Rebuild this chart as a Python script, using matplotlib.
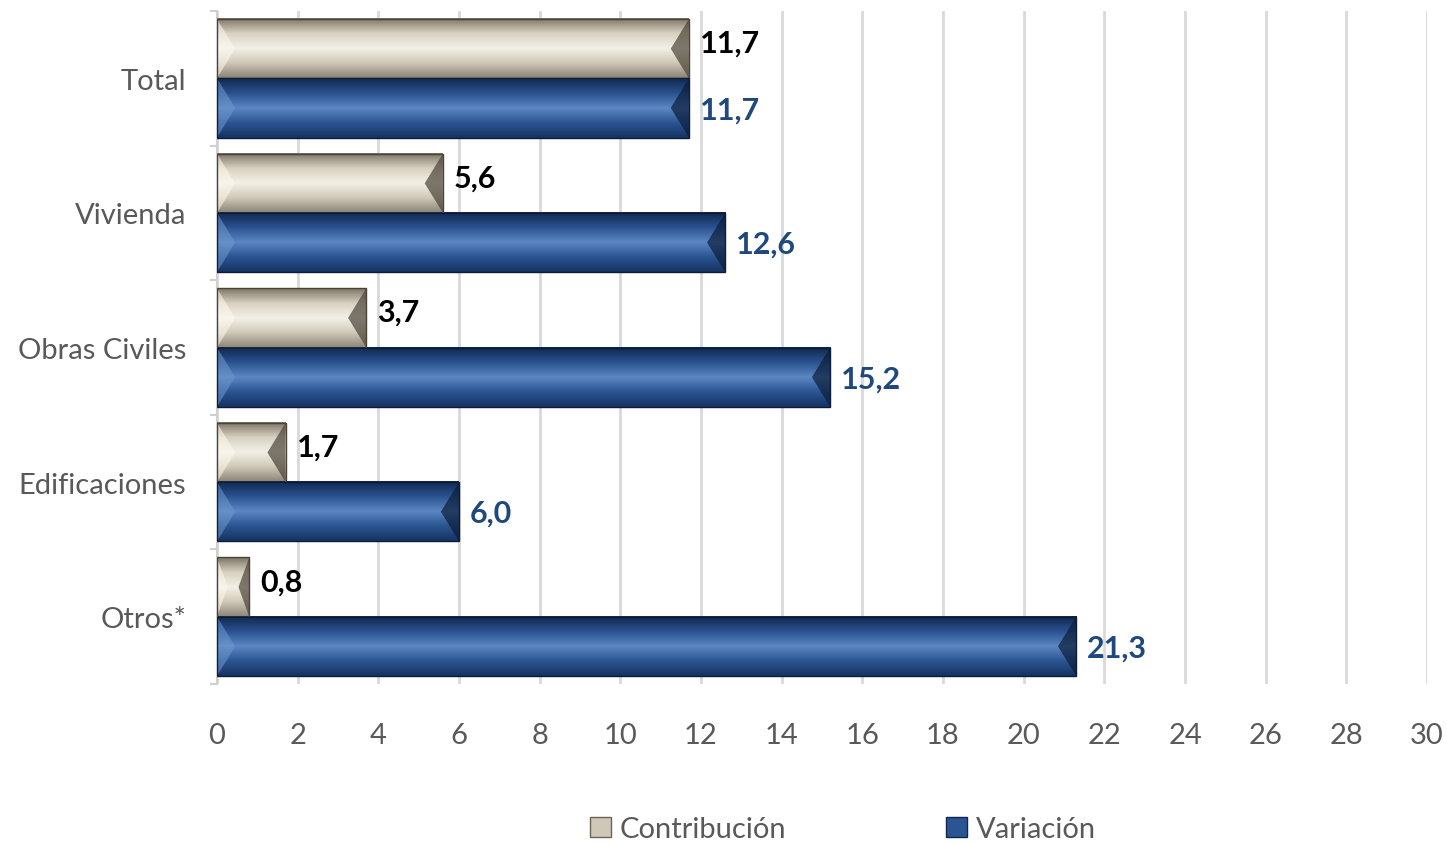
import matplotlib.pyplot as plt
import numpy as np
from matplotlib.patches import Polygon, Patch

plt.rcParams['font.family'] = ['Lato', 'DejaVu Sans']

# data, top to bottom
categories = ["Total", "Vivienda", "Obras Civiles", "Edificaciones", "Otros*"]
contribucion = [11.7, 5.6, 3.7, 1.7, 0.8]
variacion = [11.7, 12.6, 15.2, 6.0, 21.3]
x_ticks = list(range(0, 31, 2))

contrib_cols = ["#8c8474", "#cfc8b8", "#f4f0e6", "#d8d1c1", "#7d7565"]
var_cols = ["#163363", "#2b5592", "#5b87c2", "#2a5290", "#10284f"]


def fancy_bar(ax, bar, cols, edge_light, edge_dark):
    x0, y0 = bar.get_x(), bar.get_y()
    w, h = bar.get_width(), bar.get_height()
    x1, y1 = x0 + w, y0 + h
    # vertical gradient body
    grad = np.linspace(0, 1, 64)
    stops = np.linspace(0, 1, len(cols))
    rgb = np.array([plt.matplotlib.colors.to_rgb(c) for c in cols])
    img = np.stack([np.interp(grad, stops, rgb[:, k]) for k in range(3)], axis=-1)[:, None, :]
    ax.imshow(img, extent=(x0, x1, y0, y1), aspect='auto', origin='lower',
              zorder=3, interpolation='bilinear')
    ym = (y0 + y1) / 2
    dx = min(0.45, w / 3)
    ax.add_patch(Polygon([(x0, y0), (x0, y1), (x0 + dx, ym)], closed=True,
                         facecolor=edge_light, alpha=0.55, lw=0, zorder=4))
    ax.add_patch(Polygon([(x1, y0), (x1, y1), (x1 - dx, ym)], closed=True,
                         facecolor=edge_dark, alpha=0.7, lw=0, zorder=4))
    ax.add_patch(plt.Rectangle((x0, y0), w, h, fill=False, edgecolor=edge_dark,
                               lw=1.0, zorder=5))


fig = plt.figure(figsize=(14.47, 8.45), dpi=100)
ax = fig.add_axes([217 / 1447, 1 - 685 / 845, (1427 - 217) / 1447, (685 - 12) / 845])

pos = np.arange(len(categories))[::-1]
bh = 0.44
b_c = ax.barh(pos + bh / 2, contribucion, height=bh, color="none", zorder=3)
b_v = ax.barh(pos - bh / 2, variacion, height=bh, color="none", zorder=3)

for b in b_c:
    fancy_bar(ax, b, contrib_cols, "#fffaf0", "#4a4438")
for b in b_v:
    fancy_bar(ax, b, var_cols, "#6f98cf", "#0b1d3a")

for b, v in zip(b_c, contribucion):
    ax.annotate(f"{v:.1f}".replace(".", ","), (b.get_width(), b.get_y() + b.get_height() * 0.6),
                xytext=(8, 0), textcoords="offset points", va="center", ha="left",
                fontsize=22, fontweight="bold", color="black")
for b, v in zip(b_v, variacion):
    ax.annotate(f"{v:.1f}".replace(".", ","), (b.get_width(), b.get_y() + b.get_height() * 0.48),
                xytext=(8, 0), textcoords="offset points", va="center", ha="left",
                fontsize=22, fontweight="bold", color="#1f497d")

ax.set_xlim(0, 30)
ax.set_ylim(-0.5, len(categories) - 0.5)
ax.set_xticks(x_ticks)
ax.set_yticks(pos)
ax.set_yticklabels(categories)
ax.set_yticks(np.arange(-0.5, len(categories), 1), minor=True)
ax.tick_params(axis='y', which='major', length=0, pad=22, labelsize=21, labelcolor="#595959")
ax.tick_params(axis='y', which='minor', length=5, width=1.5, color="#d0d0d0")
ax.tick_params(axis='x', length=0, pad=27, labelsize=21, labelcolor="#595959")
ax.grid(axis='x', color="#d9d9d9", lw=2, zorder=0)
ax.set_axisbelow(True)
for s in ["top", "right", "bottom"]:
    ax.spines[s].set_visible(False)
ax.spines["left"].set_color("#d0d0d0")
ax.spines["left"].set_linewidth(1.5)

handles = [Patch(facecolor="#cfc8b8", edgecolor="#6b6455", label="Contribución"),
           Patch(facecolor="#2b5592", edgecolor="#10284f", label="Variación")]
fig.legend(handles=handles, loc="center", bbox_to_anchor=(843 / 1447, 15 / 845), ncol=2,
           frameon=False, fontsize=21, labelcolor="#595959", columnspacing=5.5,
           handlelength=0.7, handleheight=0.7, handletextpad=0.3)

fig.savefig("out.png", dpi=100)
